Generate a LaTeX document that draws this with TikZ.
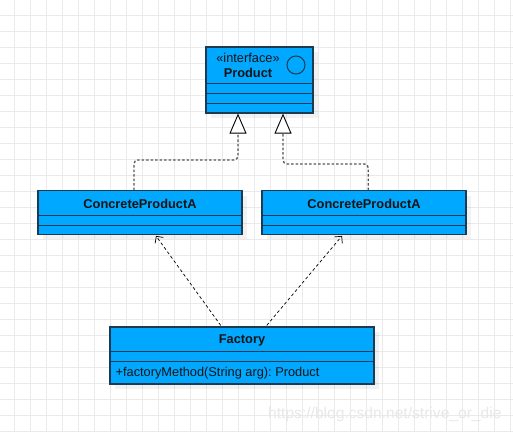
\documentclass[tikz,border=0pt]{standalone}
\usepackage{fontspec}
\setmainfont{Liberation Sans}
\usetikzlibrary{arrows.meta,calc,shadows}
\definecolor{boxfill}{RGB}{0,168,255}
\definecolor{boxline}{RGB}{28,58,82}
\definecolor{txt}{RGB}{20,20,20}
\definecolor{gridc}{RGB}{234,234,234}
\definecolor{realc}{RGB}{85,85,85}
\tikzset{
  gridline/.style={draw=gridc, line width=1pt},
  classbox/.style={draw=boxline, fill=boxfill, line width=1.2pt, inner sep=0pt,
    drop shadow={shadow xshift=5pt, shadow yshift=-5pt, opacity=0.05, fill=black}},
  divider/.style={draw=boxline, line width=1.2pt},
  lbl/.style={text=txt, inner sep=0pt, font=\fontsize{12.8}{15}\selectfont},
  blbl/.style={lbl, font=\fontsize{12.8}{15}\selectfont\bfseries},
  realize/.style={draw=realc, line width=1.3pt, dash pattern=on 2.5pt off 2pt, rounded corners=4pt,
    -{Triangle[fill=white, color=black, line width=0.9pt, length=20pt, width=17pt]}},
  depend/.style={draw=black, line width=0.7pt, dash pattern=on 3pt off 2.5pt,
    -{Straight Barb[length=5pt, width=10pt, line width=0.7pt]}},
  watermark/.style={text=gray!18, inner sep=0pt, font=\fontsize{15.6}{18}\selectfont}
}
\frenchspacing
\begin{document}
\frenchspacing
\begin{tikzpicture}[x=1pt, y=-1pt]
\useasboundingbox (0,0) rectangle (513,432);
\fill[white] (0,0) rectangle (513,432);
% grid
\foreach \gx in {14,30,...,510} \draw[gridline] (\gx,0) -- (\gx,432);
\foreach \gy in {15,31,...,431} \draw[gridline] (0,\gy) -- (513,\gy);

% Product interface
\node[classbox, minimum width=107pt, minimum height=66pt] (product) at (259.5,80) {};
\draw[divider] ($(product.north west)+(0,37.3)$) -- ($(product.north east)+(0,37.3)$);
\draw[divider] ($(product.north west)+(0,47.3)$) -- ($(product.north east)+(0,47.3)$);
\draw[divider] ($(product.north west)+(0,57.3)$) -- ($(product.north east)+(0,57.3)$);
\node[lbl] (prodstereo) at (248,57.5) {«interface»};
\node[blbl] (prodname) at (248,72.5) {Product};
\node[draw=boxline, line width=1pt, circle, minimum size=18pt, inner sep=0pt] (prodicon) at (296,65) {};

% Concrete products
\node[classbox, minimum width=204pt, minimum height=43.6pt] (cpaL) at (140,212.5) {};
\draw[divider] ($(cpaL.north west)+(0,25.3)$) -- ($(cpaL.north east)+(0,25.3)$);
\draw[divider] ($(cpaL.north west)+(0,35)$) -- ($(cpaL.north east)+(0,35)$);
\node[blbl] (cpaLname) at ($(cpaL.north)+(0,13.4)$) {ConcreteProductA};

\node[classbox, minimum width=204pt, minimum height=43.6pt] (cpaR) at (364,212.5) {};
\draw[divider] ($(cpaR.north west)+(0,25.3)$) -- ($(cpaR.north east)+(0,25.3)$);
\draw[divider] ($(cpaR.north west)+(0,35)$) -- ($(cpaR.north east)+(0,35)$);
\node[blbl] (cpaRname) at ($(cpaR.north)+(0,13.4)$) {ConcreteProductA};

% Factory
\node[classbox, minimum width=264pt, minimum height=57pt] (factory) at (242,355.5) {};
\draw[divider] ($(factory.north west)+(0,25)$) -- ($(factory.north east)+(0,25)$);
\draw[divider] ($(factory.north west)+(0,35)$) -- ($(factory.north east)+(0,35)$);
\node[blbl] (factoryname) at ($(factory.north)+(0,14)$) {Factory};
\node[lbl, anchor=west] (factorymethod) at ($(factory.west)+(6,17.5)$) {+factoryMethod(String arg): Product};

% realization connectors
\draw[realize] ($(cpaL.north)+(-6,0)$) |- ($(product.south)+(-21.5,46.3)$) -- ($(product.south)+(-21.5,0)$);
\draw[realize] ($(cpaR.north)+(4.3,0)$) |- ($(product.south)+(23.5,50.3)$) -- ($(product.south)+(23.5,0)$);

% dependency connectors
\draw[depend] ($(factory.north)+(-21.3,-1)$) -- ($(cpaL.south)+(16,1)$);
\draw[depend] ($(factory.north)+(24.7,-1)$) -- ($(cpaR.south)+(-22,1)$);

% watermark
\node[watermark, anchor=west] (wm) at (268,414) {https://blog.csdn.net/strive\_or\_die};
\end{tikzpicture}
\end{document}
